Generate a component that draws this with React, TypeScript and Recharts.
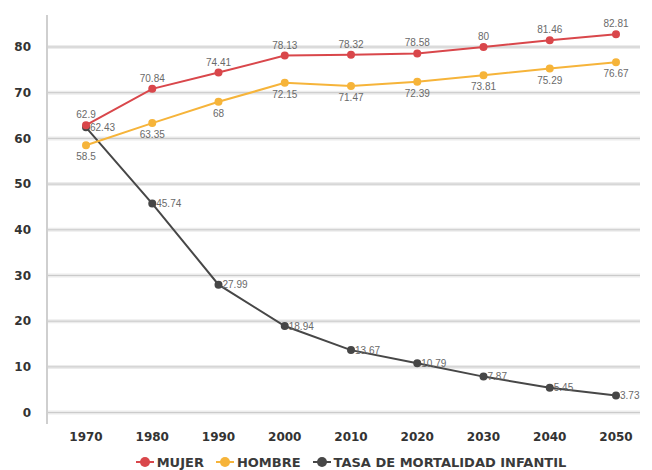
import { LineChart, Line, XAxis, YAxis, ReferenceLine, Legend, LabelList } from 'recharts';

const years = ['1970', '1980', '1990', '2000', '2010', '2020', '2030', '2040', '2050'];
const mujer = [62.9, 70.84, 74.41, 78.13, 78.32, 78.58, 80, 81.46, 82.81];
const hombre = [58.5, 63.35, 68, 72.15, 71.47, 72.39, 73.81, 75.29, 76.67];
const mortalidad = [62.43, 45.74, 27.99, 18.94, 13.67, 10.79, 7.87, 5.45, 3.73];
const yTicks = [0, 10, 20, 30, 40, 50, 60, 70, 80];

const data = years.map((year, i) => ({
  year,
  mujer: mujer[i],
  hombre: hombre[i],
  mortalidad: mortalidad[i],
}));

const RED = '#d9474b';
const YELLOW = '#f6b43a';
const DARK = '#474747';

const legendItems = [
  { name: 'MUJER', color: RED },
  { name: 'HOMBRE', color: YELLOW },
  { name: 'TASA DE MORTALIDAD INFANTIL', color: DARK },
];

function ChartLegend() {
  return (
    <div style={{ display: 'flex', justifyContent: 'center', gap: 12, paddingLeft: 62, marginTop: 3, height: 22 }}>
      {legendItems.map((item) => (
        <div key={item.name} style={{ display: 'flex', alignItems: 'center' }}>
          <svg width={18} height={12} style={{ marginRight: 3 }}>
            <line x1={0} y1={6} x2={18} y2={6} stroke={item.color} strokeWidth={2} />
            <circle cx={9} cy={6} r={5} fill={item.color} />
          </svg>
          <span style={{ fontFamily: 'DejaVu Sans', fontWeight: 'bold', fontSize: 13, color: '#3a3a3a' }}>
            {item.name}
          </span>
        </div>
      ))}
    </div>
  );
}

const labelStyle = { fontFamily: 'Liberation Sans', fontSize: 10, fill: '#6a6a6a' };
const tickStyle = { fontFamily: 'DejaVu Sans', fontWeight: 'bold', fontSize: 12, fill: '#333' };

export default function App() {
  return (
    <div style={{ position: 'absolute', left: 0, top: 0, background: '#fff' }}>
      <LineChart width={652} height={470} data={data} margin={{ top: 15, right: 12, left: 0, bottom: 0 }}>
        {/* grid drawn as a soft band with a thin line, only at labelled ticks */}
        {yTicks.map((t) => (
          <ReferenceLine key={`band-${t}`} y={t} stroke="#ececec" strokeWidth={4} />
        ))}
        {yTicks.map((t) => (
          <ReferenceLine key={`line-${t}`} y={t} stroke="#c9c9c9" strokeWidth={1} />
        ))}
        <XAxis
          dataKey="year"
          axisLine={false}
          tickLine={false}
          padding={{ left: 39, right: 24 }}
          tick={tickStyle}
          tickMargin={2}
          height={24}
        />
        <YAxis
          domain={[-2.5, 87]}
          ticks={yTicks}
          width={47}
          axisLine={{ stroke: '#cfcfcf', strokeWidth: 2 }}
          tickLine={false}
          tick={tickStyle}
          tickMargin={10}
        />
        <Legend verticalAlign="bottom" height={22} content={<ChartLegend />} />
        <Line
          dataKey="mortalidad"
          stroke={DARK}
          strokeWidth={2}
          dot={{ r: 3, fill: DARK, stroke: DARK }}
          isAnimationActive={false}
        >
          <LabelList dataKey="mortalidad" position="right" offset={4} style={labelStyle} />
        </Line>
        <Line
          dataKey="hombre"
          stroke={YELLOW}
          strokeWidth={2}
          dot={{ r: 3, fill: YELLOW, stroke: YELLOW }}
          isAnimationActive={false}
        >
          <LabelList dataKey="hombre" position="bottom" offset={8} style={labelStyle} />
        </Line>
        <Line
          dataKey="mujer"
          stroke={RED}
          strokeWidth={2}
          dot={{ r: 3, fill: RED, stroke: RED }}
          isAnimationActive={false}
        >
          <LabelList dataKey="mujer" position="top" offset={7} style={labelStyle} />
        </Line>
      </LineChart>
    </div>
  );
}
